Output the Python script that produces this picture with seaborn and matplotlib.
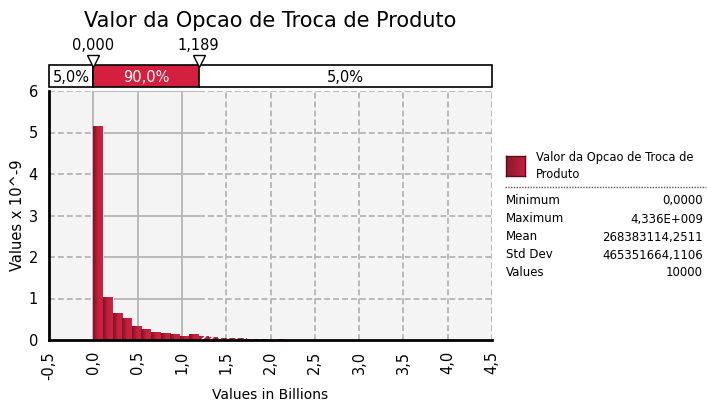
import numpy as np
import pandas as pd
import matplotlib
matplotlib.use("Agg")
import matplotlib.pyplot as plt
from matplotlib.colors import LinearSegmentedColormap
from matplotlib.patches import Rectangle
import seaborn as sns

# ---------------- data ----------------
title = "Valor da Opcao de Troca de Produto"
data_min = 0.0
data_max = 4.336          # billions
n_bins = 40
heights = [5.16, 1.04, 0.66, 0.54, 0.345, 0.27, 0.20, 0.18, 0.15, 0.104,
           0.155, 0.09, 0.07, 0.05, 0.045, 0.04, 0.035, 0.03, 0.005, 0.03,
           0, 0, 0, 0, 0, 0, 0, 0, 0, 0,
           0, 0, 0, 0, 0, 0, 0, 0, 0, 0]
lower_pct_val = 0.000
upper_pct_val = 1.189
band_labels = ["5,0%", "90,0%", "5,0%"]
x_ticks = [-0.5, 0.0, 0.5, 1.0, 1.5, 2.0, 2.5, 3.0, 3.5, 4.0, 4.5]
x_tick_labels = ["-0,5", "0,0", "0,5", "1,0", "1,5", "2,0", "2,5", "3,0", "3,5", "4,0", "4,5"]
y_ticks = [0, 1, 2, 3, 4, 5, 6]
stat_names = ["Minimum", "Maximum", "Mean", "Std Dev", "Values"]
stat_values = ["0,0000", "4,336E+009", "268383114,2511", "465351664,1106", "10000"]
legend_label = "Valor da Opcao de Troca de\nProduto"

# ---------------- setup ----------------
sns.set_style("white")
plt.rcParams["font.family"] = ["DejaVu Sans"]
plt.rcParams["hatch.linewidth"] = 1.2
for k in ["text.color", "axes.labelcolor", "xtick.color", "ytick.color"]:
    plt.rcParams[k] = "black"

W, H = 707, 403
fig = plt.figure(figsize=(W / 100, H / 100), dpi=100)

def fx(px):
    return px / W

def fy(py):
    return 1 - py / H

ax_l, ax_r, ax_t, ax_b = 49, 492, 91, 340
ax = fig.add_axes([fx(ax_l), fy(ax_b), fx(ax_r - ax_l), (ax_b - ax_t) / H])
ax.set_facecolor("#f4f4f4")

bin_width = (data_max - data_min) / n_bins
centers = data_min + bin_width * (np.arange(n_bins) + 0.5)
df = pd.DataFrame({"x": centers, "w": heights})

sns.histplot(data=df, x="x", weights="w", binwidth=bin_width,
             binrange=(data_min, data_max), stat="count",
             color="#b01c34", alpha=1, edgecolor="#f4f4f4", linewidth=0.7,
             ax=ax, zorder=3)

cmap = LinearSegmentedColormap.from_list("bar", ["#7a1526", "#c41f3b", "#cc2340"])
grad = np.linspace(0, 1, 64).reshape(1, -1)
for p in list(ax.patches):
    x0 = p.get_x()
    w = p.get_width()
    h = p.get_height()
    if h <= 0:
        continue
    if x0 > upper_pct_val - 0.02:
        # outside the 90% band -> hatched
        p.set_facecolor("#b51d36")
        p.set_hatch("////")
        p.set_edgecolor("white")
        p.set_linewidth(0)
    else:
        im = ax.imshow(grad, extent=[x0, x0 + w, 0, h], aspect="auto",
                       cmap=cmap, zorder=3.5, interpolation="bilinear")
        im.set_clip_path(p)

ax.set_xlim(-0.5, 4.5)
ax.set_ylim(0, 6)

# grid: solid within the 90% band, dashed elsewhere
gcol = "#b9b9b9"
dash = (0, (3, 1.6))
for xv in x_ticks:
    solid = lower_pct_val - 1e-9 <= xv <= upper_pct_val
    ax.axvline(xv, color=gcol, lw=1.4, ls="-" if solid else dash, zorder=1)
for yv in y_ticks[1:]:
    ax.hlines(yv, -0.5, lower_pct_val, color=gcol, lw=1.4, ls=dash, zorder=1)
    ax.hlines(yv, lower_pct_val, upper_pct_val, color=gcol, lw=1.4, ls="-", zorder=1)
    ax.hlines(yv, upper_pct_val, 4.5, color=gcol, lw=1.4, ls=dash, zorder=1)

for s in ["top", "right"]:
    ax.spines[s].set_visible(False)
for s in ["left", "bottom"]:
    ax.spines[s].set_color("black")
    ax.spines[s].set_linewidth(2)
    ax.spines[s].set_zorder(5)

ax.set_xticks(x_ticks)
ax.set_xticklabels(x_tick_labels, rotation=90, fontsize=10.5)
ax.set_yticks(y_ticks)
ax.set_yticklabels([str(v) for v in y_ticks], fontsize=10.5)
ax.tick_params(axis="both", direction="out", length=5, width=1.5, color="black", pad=3)
ax.set_xlabel("Values in Billions", fontsize=10, va="center")
ax.set_ylabel("Values x 10^-9", fontsize=10.5, va="center")
ax.xaxis.set_label_coords((270 - ax_l) / (ax_r - ax_l), -(395 - ax_b) / (ax_b - ax_t))
ax.yaxis.set_label_coords(-(49 - 18) / (ax_r - ax_l), (ax_b - 215) / (ax_b - ax_t))

# ---------------- percentile band on top ----------------
bx = fig.add_axes([fx(ax_l), fy(86.5), fx(ax_r - ax_l), 21 / H])
bx.set_xlim(-0.5, 4.5)
bx.set_ylim(0, 1)
bx.axis("off")
band_edges = [-0.5, lower_pct_val, upper_pct_val, 4.5]
band_cols = ["white", "#d41f3f", "white"]
band_tcols = ["black", "white", "black"]
for i in range(3):
    bx.add_patch(Rectangle((band_edges[i], 0), band_edges[i + 1] - band_edges[i], 1,
                           facecolor=band_cols[i], edgecolor="black", lw=1.2,
                           clip_on=False))
    bx.text((band_edges[i] + band_edges[i + 1]) / 2, 0.45, band_labels[i],
            ha="center", va="center", fontsize=10.5, color=band_tcols[i])
for v in [lower_pct_val, upper_pct_val]:
    bx.plot([v], [1.2], marker="v", markersize=9, markerfacecolor="white",
            markeredgecolor="black", markeredgewidth=1, clip_on=False, zorder=5)
    bx.text(v, 1.6, f"{v:.3f}".replace(".", ","), ha="center", va="bottom",
            fontsize=10.5)

# ---------------- title ----------------
fig.text(fx(270), fy(21), title, ha="center", va="center", fontsize=15)

# ---------------- legend / stats ----------------
lax = fig.add_axes([fx(506), fy(176), fx(19), 20 / H])
lax.imshow(grad, aspect="auto", cmap=LinearSegmentedColormap.from_list(
    "leg", ["#8a1a2c", "#c8203c"]), extent=[0, 1, 0, 1])
lax.set_xticks([])
lax.set_yticks([])
for s in lax.spines.values():
    s.set_color("#5a0d18")
    s.set_linewidth(1)

fig.text(fx(536), fy(166), legend_label, ha="left", va="center", fontsize=8.3,
         linespacing=1.35)
fig.add_artist(plt.Line2D([fx(505), fx(706)], [fy(187), fy(187)],
                          color="#555555", lw=1, ls=(0, (1, 1))))
row_y = [201, 219, 237, 255, 272]
for n, v, yy in zip(stat_names, stat_values, row_y):
    fig.text(fx(506), fy(yy), n, ha="left", va="center", fontsize=8.5)
    fig.text(fx(703), fy(yy), v, ha="right", va="center", fontsize=8.5)

fig.savefig("out.png", dpi=100)
